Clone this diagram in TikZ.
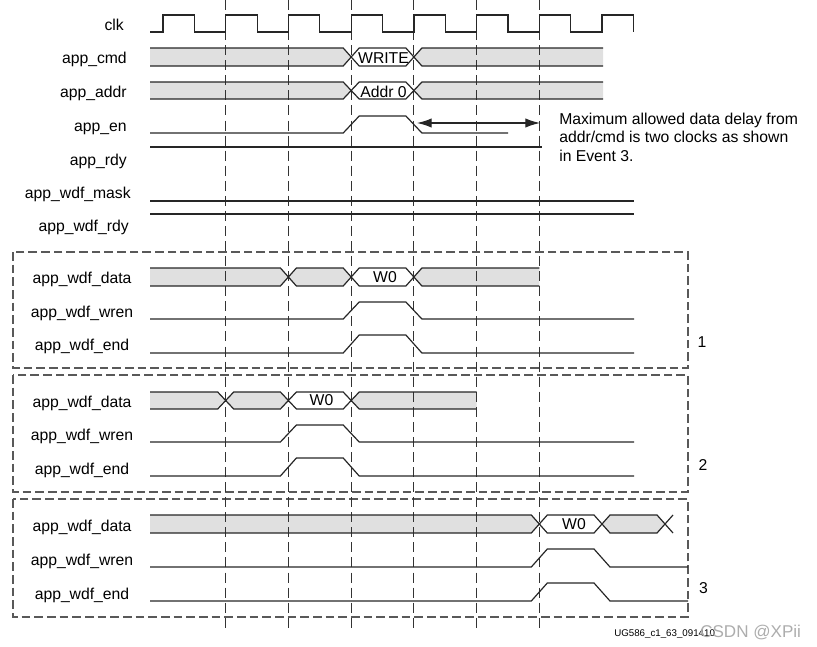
\documentclass[tikz,border=0pt]{standalone}
\usepackage{fontspec}
\setmainfont{Liberation Sans}
\usepackage{tikz}
\usetikzlibrary{positioning,arrows.meta}

\begin{document}
\begin{tikzpicture}[x=0.75pt, y=-0.75pt,
        wave/.style={line width=0.9pt, black!85},
        busfill/.style={fill=black!12},
        gridline/.style={line width=0.85pt, black!80, dash pattern=on 7.5pt off 3.8pt},
        frame/.style={line width=0.85pt, black!65, dash pattern=on 6.5pt off 3pt},
        sig/.style={font=\fontsize{11.8}{14}\selectfont, inner sep=0pt}]
        \useasboundingbox (0,0) rectangle (817,646);

        % Event frames
        \draw[frame] (13,252) rectangle (688,368);
        \draw[frame] (13,375) rectangle (688,492);
        \draw[frame] (13,499) rectangle (688,617);

        % Bus fills
        \fill[busfill] (150,48) -- (343.2,48) -- (351.2,57) -- (343.2,66) -- (150,66) -- cycle;
        \fill[busfill] (603,48) -- (421.9,48) -- (413.9,57) -- (421.9,66) -- (603,66) -- cycle;
        \fill[busfill] (150,82) -- (343.2,82) -- (351.2,90.5) -- (343.2,99) -- (150,99) -- cycle;
        \fill[busfill] (603,82) -- (421.9,82) -- (413.9,90.5) -- (421.9,99) -- (603,99) -- cycle;
        \fill[busfill] (150,268) -- (280.4,268) -- (288.4,277) -- (280.4,286) -- (150,286) -- cycle;
        \fill[busfill] (288.4,277) -- (296.4,268) -- (343.2,268) -- (351.2,277) -- (343.2,286) -- (296.4,286) -- cycle;
        \fill[busfill] (413.9,277) -- (421.9,268) -- (539.3,268) -- (539.3,286) -- (421.9,286) -- cycle;
        \fill[busfill] (150,392) -- (217.7,392) -- (225.7,400.5) -- (217.7,409) -- (150,409) -- cycle;
        \fill[busfill] (225.7,400.5) -- (233.7,392) -- (280.4,392) -- (288.4,400.5) -- (280.4,409) -- (233.7,409) -- cycle;
        \fill[busfill] (351.2,400.5) -- (359.2,392) -- (476.6,392) -- (476.6,409) -- (359.2,409) -- cycle;
        \fill[busfill] (150,515) -- (531.3,515) -- (539.3,524) -- (531.3,533) -- (150,533) -- cycle;
        \fill[busfill] (602,524) -- (610,515) -- (657,515) -- (665,524) -- (657,533) -- (610,533) -- cycle;

        % Clock grid
        \foreach \g in {225.7,288.4,351.2,413.9,476.6,539.3}
            \draw[gridline] (\g,0) -- (\g,631);

        % Clock
        \draw[wave] (150,32) foreach \r in {163,225.7,288.4,351.2,413.9,476.6,539.3,602} {
            -- (\r,32) -- (\r,15) -- (\r+31.4,15) -- (\r+31.4,32)};

        % Command and address
        \draw[wave] (150,48) -- (343.2,48) -- (359.2,66) -- (405.9,66) -- (421.9,48) -- (603,48);
        \draw[wave] (150,66) -- (343.2,66) -- (359.2,48) -- (405.9,48) -- (421.9,66) -- (603,66);
        \draw[wave] (150,82) -- (343.2,82) -- (359.2,99) -- (405.9,99) -- (421.9,82) -- (603,82);
        \draw[wave] (150,99) -- (343.2,99) -- (359.2,82) -- (405.9,82) -- (421.9,99) -- (603,99);
        \draw[wave] (150,133) -- (343.2,133) -- (359.2,116) -- (405.9,116) -- (421.9,133) -- (508,133);
        \draw[wave] (150,147) -- (542,147);
        \draw[wave] (150,201) -- (634,201);
        \draw[wave] (150,214) -- (634,214);

        % Event 1
        \draw[wave] (150,268) -- (280.4,268) -- (296.4,286) -- (343.2,286) -- (359.2,268) -- (405.9,268) -- (421.9,286) -- (539.3,286);
        \draw[wave] (150,286) -- (280.4,286) -- (296.4,268) -- (343.2,268) -- (359.2,286) -- (405.9,286) -- (421.9,268) -- (539.3,268);
        \draw[wave] (150,319) -- (343.2,319) -- (359.2,302) -- (405.9,302) -- (421.9,319) -- (634,319);
        \draw[wave] (150,353) -- (343.2,353) -- (359.2,335) -- (405.9,335) -- (421.9,353) -- (634,353);

        % Event 2
        \draw[wave] (150,392) -- (217.7,392) -- (233.7,409) -- (280.4,409) -- (296.4,392) -- (343.2,392) -- (359.2,409) -- (476.6,409);
        \draw[wave] (150,409) -- (217.7,409) -- (233.7,392) -- (280.4,392) -- (296.4,409) -- (343.2,409) -- (359.2,392) -- (476.6,392);
        \draw[wave] (150,442) -- (280.4,442) -- (296.4,425) -- (343.2,425) -- (359.2,442) -- (634,442);
        \draw[wave] (150,476) -- (280.4,476) -- (296.4,458) -- (343.2,458) -- (359.2,476) -- (634,476);

        % Event 3
        \draw[wave] (150,515) -- (531.3,515) -- (547.3,533) -- (594,533) -- (610,515) -- (657,515) -- (673,533);
        \draw[wave] (150,533) -- (531.3,533) -- (547.3,515) -- (594,515) -- (610,533) -- (657,533) -- (673,515);
        \draw[wave] (150,567) -- (531.3,567) -- (547.3,549) -- (594,549) -- (610,567) -- (688,567);
        \draw[wave] (150,601) -- (531.3,601) -- (547.3,583) -- (594,583) -- (610,601) -- (688,601);

        % Signal names
        \node[sig, anchor=base east] (nclk) at (124,30) {clk};
        \node[sig, anchor=base east] (ncmd) at (127,63) {app\_cmd};
        \node[sig, anchor=base east] (naddr) at (127,97) {app\_addr};
        \node[sig, anchor=base east] (nen) at (127,131) {app\_en};
        \node[sig, anchor=base east] (nrdy) at (127,165) {app\_rdy};
        \node[sig, anchor=base east] (nmask) at (131,198) {app\_wdf\_mask};
        \node[sig, anchor=base east] (nwrdy) at (129,231) {app\_wdf\_rdy};
        \node[sig, anchor=base] (ndataA) at (82,283) {app\_wdf\_data};
        \node[sig, anchor=base] (nwrenA) at (82,317) {app\_wdf\_wren};
        \node[sig, anchor=base] (nendA) at (82,350) {app\_wdf\_end};
        \node[sig, anchor=base] (ndataB) at (82,407) {app\_wdf\_data};
        \node[sig, anchor=base] (nwrenB) at (82,440) {app\_wdf\_wren};
        \node[sig, anchor=base] (nendB) at (82,474) {app\_wdf\_end};
        \node[sig, anchor=base] (ndataC) at (82,531) {app\_wdf\_data};
        \node[sig, anchor=base] (nwrenC) at (82,565) {app\_wdf\_wren};
        \node[sig, anchor=base] (nendC) at (82,599) {app\_wdf\_end};

        % Bus values
        \node[sig, anchor=base] (vwrite) at (383.5,63) {WRITE};
        \node[sig, anchor=base] (vaddr) at (383.5,97) {Addr 0};
        \node[sig, anchor=base] (vwA) at (385,282) {W0};
        \node[sig, anchor=base] (vwB) at (321.5,405.5) {W0};
        \node[sig, anchor=base] (vwC) at (574,529) {W0};

        % Event numbers
        \node[sig, anchor=base] (evA) at (702,347) {1};
        \node[sig, anchor=base] (evB) at (703,470) {2};
        \node[sig, anchor=base] (evC) at (703.5,593) {3};

        % Delay note
        \coordinate (dfrom) at (417,123);
        \coordinate (dto) at (540,123);
        \draw[wave, {Latex[length=11pt,width=7pt]}-{Latex[length=11pt,width=7pt]}] (dfrom) -- (dto);
        \node[sig, anchor=base west] (noteA) at (559,124) {Maximum allowed data delay from};
        \node[sig, anchor=base west] (noteB) at (559,142.5) {addr/cmd is two clocks as shown};
        \node[sig, anchor=base west] (noteC) at (559,161) {in Event 3.};

        % Figure tag
        \node[anchor=base west, inner sep=0pt, font=\fontsize{7.3}{8}\selectfont] (tag) at (614,636) {UG586\_c1\_63\_091410};
        \node[anchor=base west, inner sep=0pt, black!32, font=\fontsize{12.8}{14}\selectfont] (mark) at (700,637) {CSDN @XPii};
    \end{tikzpicture}
\end{document}
